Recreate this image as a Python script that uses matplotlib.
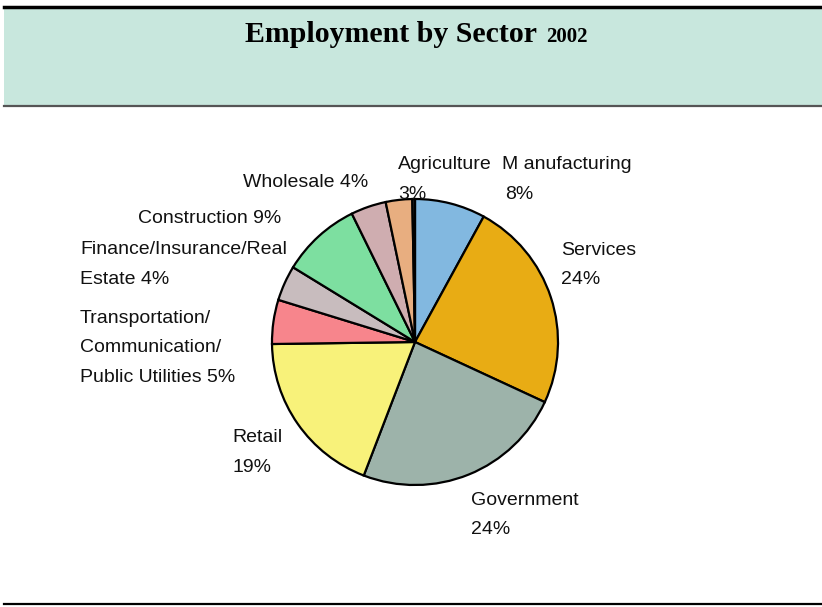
import matplotlib.pyplot as plt
from matplotlib.patches import Rectangle
from matplotlib.lines import Line2D

W, H = 822, 607

sectors = ['Manufacturing', 'Services', 'Government', 'Retail',
           'Transportation/Communication/Public Utilities',
           'Finance/Insurance/Real Estate', 'Construction', 'Wholesale',
           'Agriculture', 'Mining']
shares = [8, 24, 24, 19, 5, 4, 9, 4, 3, 0.3]
colors = ['#82b8e0', '#e8ac14', '#9db3aa', '#f8f27a', '#f7858c',
          '#c8bcbe', '#7ddfa0', '#cfadb0', '#e8ae80', '#3a3a3a']

# label text lines, first line baseline (px from top-left), left aligned
label_lines = [
    (['M anufacturing', '8%'], 502, 169, [0, 3]),
    (['Services', '24%'], 561, 255, [0, 0]),
    (['Government', '24%'], 471, 505, [0, 0]),
    (['Retail', '19%'], 232, 442, [0, 0]),
    (['Transportation/', 'Communication/', 'Public Utilities 5%'], 80, 323, [0, 0, 0]),
    (['Finance/Insurance/Real', 'Estate 4%'], 80, 254, [0, 0]),
    (['Construction 9%'], 138, 223, [0]),
    (['Wholesale 4%'], 243, 187, [0]),
    (['Agriculture', '3%'], 398, 169, [0, 0]),
]


def fx(x):
    return x / W


def fy(y):
    return 1 - y / H


def main():
    plt.rcParams['font.family'] = ['Liberation Sans', 'DejaVu Sans']
    fig = plt.figure(figsize=(W / 100, H / 100), dpi=100)

    # title band
    fig.patches.append(Rectangle((fx(4), fy(106)), fx(822) - fx(4), fy(7) - fy(106),
                                 transform=fig.transFigure, facecolor='#c8e7dd',
                                 edgecolor='none', zorder=0))
    fig.add_artist(Line2D([fx(4), 1], [fy(6.5), fy(6.5)], color='black', lw=2.5))
    fig.add_artist(Line2D([fx(4), 1], [fy(106), fy(106)], color='#555555', lw=1.6))
    fig.add_artist(Line2D([fx(4), 1], [fy(604), fy(604)], color='black', lw=1.6))

    fig.text(fx(245), fy(42), 'Employment by Sector', family='Liberation Serif',
             fontweight='bold', fontsize=21.5, va='baseline', ha='left')
    fig.text(fx(546), fy(42), '2002', family='Liberation Serif',
             fontweight='bold', fontsize=15, va='baseline', ha='left')

    cx, cy, r = 415, 342, 143
    ax = fig.add_axes([fx(cx - r), fy(cy + r), 2 * r / W, 2 * r / H])
    ax.pie(shares, colors=colors, startangle=90, counterclock=False,
           wedgeprops=dict(edgecolor='black', linewidth=1.6))
    ax.set_xlim(-1, 1)
    ax.set_ylim(-1, 1)
    ax.axis('off')

    for lines, x, y, offs in label_lines:
        for i, line in enumerate(lines):
            fig.text(fx(x + offs[i]), fy(y + i * 29.5), line, fontsize=14,
                     va='baseline', ha='left', color='#111111')

    fig.savefig('out.png', dpi=100)


if __name__ == '__main__':
    main()
